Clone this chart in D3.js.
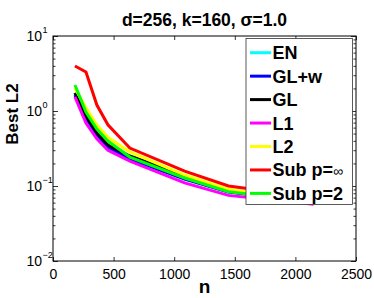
<!DOCTYPE html>
<html><head><meta charset="utf-8">
<script src="https://cdn.jsdelivr.net/npm/d3@7"></script>
<style>body{margin:0;background:#fff}svg{display:block;font-family:"Liberation Sans",Arial,sans-serif}</style>
</head><body><svg id="c" width="374" height="298"></svg>
<script>
const nValues = [181, 272, 362, 453, 634, 1086, 1448, 2150];
const seriesNames = ["EN", "GL+w", "GL", "L1", "L2", "Sub p=\u221e", "Sub p=2"];
const seriesColors = ["#00ffff", "#0000ff", "#000000", "#ff00ff", "#ffff00", "#ff0000", "#00ff00"];
const EN   = [1.68, 0.83, 0.49, 0.34, 0.235, 0.126, 0.084, 0.062];
const GLw  = [1.63, 0.81, 0.48, 0.331, 0.229, 0.124, 0.083, 0.061];
const GL   = [1.74, 0.86, 0.51, 0.352, 0.251, 0.136, 0.088, 0.064];
const L1   = [1.54, 0.69, 0.425, 0.30, 0.215, 0.11, 0.075, 0.057];
const L2   = [2.03, 1.10, 0.65, 0.445, 0.285, 0.14, 0.09, 0.065];
const SubInf = [3.98, 3.31, 1.20, 0.655, 0.321, 0.158, 0.10, 0.071];
const Sub2 = [2.22, 0.97, 0.575, 0.398, 0.243, 0.128, 0.084, 0.062];
const seriesValues = [EN, GLw, GL, L1, L2, SubInf, Sub2];
const xTicks = [0, 500, 1000, 1500, 2000, 2500];
const yTicks = [0.01, 0.1, 1, 10];
const yTickExp = ["\u22122", "\u22121", "0", "1"];
const title = "d=256, k=160, \u03c3=1.0";

const svg = d3.select("#c");
const L = 53, R = 356, T = 36, B = 261;
const x = d3.scaleLinear().domain([0, 2500]).range([L, R]);
const y = d3.scaleLog().domain([0.01, 10]).range([B, T]);

svg.append("rect").attr("x", L).attr("y", T).attr("width", R - L).attr("height", B - T)
  .attr("fill", "#fff").attr("stroke", "#000").attr("stroke-width", 1);

const xb = svg.append("g").attr("transform", `translate(0,${B})`)
  .call(d3.axisBottom(x).tickValues(xTicks).tickSize(-4).tickPadding(8).tickFormat(d3.format("d")));
xb.select(".domain").remove();
xb.selectAll("text").attr("font-size", 14).attr("fill", "#000").attr("font-family", "Liberation Sans, Arial, sans-serif");
const xt = svg.append("g").attr("transform", `translate(0,${T})`)
  .call(d3.axisTop(x).tickValues(xTicks).tickSize(-4).tickFormat(""));
xt.select(".domain").remove();

const minor = y.ticks().filter(v => !yTicks.includes(v));
const yl = svg.append("g").attr("transform", `translate(${L},0)`)
  .call(d3.axisLeft(y).tickValues(yTicks).tickSize(-5).tickFormat(""));
yl.select(".domain").remove();
const ylm = svg.append("g").attr("transform", `translate(${L},0)`)
  .call(d3.axisLeft(y).tickValues(minor).tickSize(-2.5).tickFormat(""));
ylm.select(".domain").remove();
const yr = svg.append("g").attr("transform", `translate(${R},0)`)
  .call(d3.axisRight(y).tickValues(yTicks).tickSize(-5).tickFormat(""));
yr.select(".domain").remove();
const yrm = svg.append("g").attr("transform", `translate(${R},0)`)
  .call(d3.axisRight(y).tickValues(minor).tickSize(-2.5).tickFormat(""));
yrm.select(".domain").remove();
svg.selectAll(".tick line").attr("stroke", "#000").attr("stroke-width", 0.8);

yTicks.forEach((v, i) => {
  svg.append("text").attr("x", 42).attr("y", y(v) + 5)
    .attr("text-anchor", "end").attr("font-size", 14).attr("fill", "#000").text("10");
  svg.append("text").attr("x", 42.5).attr("y", y(v) - 3)
    .attr("font-size", 9).attr("fill", "#000").text(yTickExp[i]);
});

const line = d3.line().x((d, i) => x(nValues[i])).y(d => y(d));
svg.append("clipPath").attr("id", "pc").append("rect")
  .attr("x", L).attr("y", T).attr("width", R - L).attr("height", B - T);
const lg = svg.append("g").attr("clip-path", "url(#pc)");
seriesValues.forEach((vals, i) => {
  lg.append("path").datum(vals).attr("d", line).attr("fill", "none")
    .attr("stroke", seriesColors[i]).attr("stroke-width", 3).attr("stroke-linejoin", "miter");
});

const lgX = 246, lgY = 38.5, lgW = 106.5, lgH = 166;
svg.append("rect").attr("x", lgX).attr("y", lgY).attr("width", lgW).attr("height", lgH)
  .attr("fill", "#fff").attr("stroke", "#333").attr("stroke-width", 0.8);
seriesNames.forEach((name, i) => {
  const cy = 52.7 + i * 23.45;
  svg.append("line").attr("x1", 250).attr("x2", 271).attr("y1", cy).attr("y2", cy)
    .attr("stroke", seriesColors[i]).attr("stroke-width", 3);
  const t = svg.append("text").attr("x", 272.5).attr("y", cy + 6.5)
    .attr("font-size", 18).attr("font-weight", "bold").attr("fill", "#000");
  if (name.endsWith("\u221e")) {
    t.append("tspan").text(name.slice(0, -1));
    t.append("tspan").attr("font-weight", "normal").attr("font-size", 14).text("\u221e");
  } else t.text(name);
});

svg.append("text").attr("x", 204.5).attr("y", 26).attr("text-anchor", "middle")
  .attr("font-size", 17.5).attr("font-weight", "bold").attr("fill", "#000").text(title);
svg.append("text").attr("x", 204.5).attr("y", 293).attr("text-anchor", "middle")
  .attr("font-size", 19).attr("font-weight", "bold").attr("fill", "#000").text("n");
svg.append("text").attr("transform", "translate(18,114) rotate(-90)").attr("text-anchor", "middle")
  .attr("font-size", 17).attr("font-weight", "bold").attr("fill", "#000").text("Best L2");
</script></body></html>
